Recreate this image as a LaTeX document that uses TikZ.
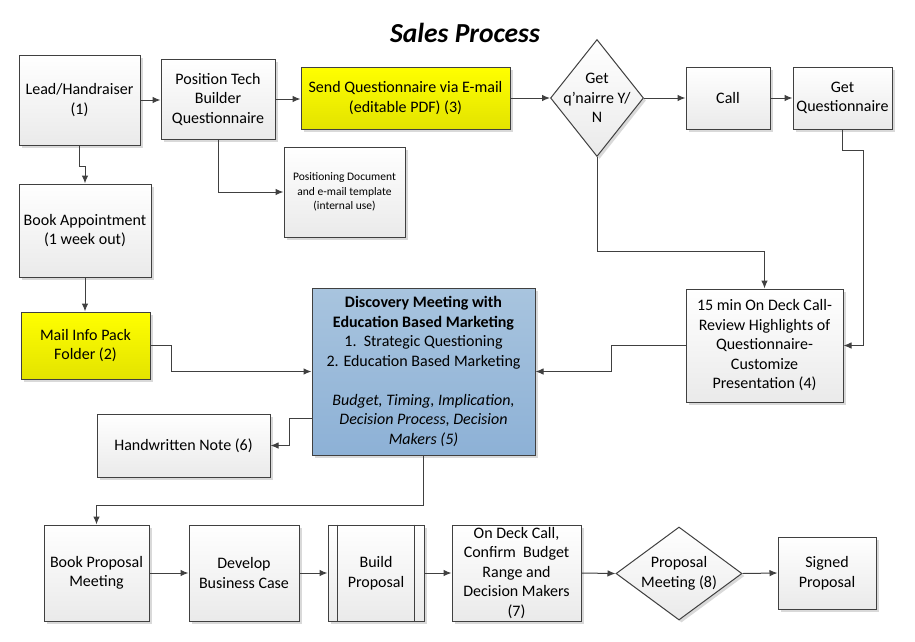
\documentclass[tikz,border=0pt]{standalone}
\usepackage{fontspec}
\setmainfont{Carlito}
\usetikzlibrary{arrows.meta,shapes.geometric,shadows}
\definecolor{edgec}{HTML}{404040}
\definecolor{boxbot}{HTML}{EAEAEA}
\definecolor{yeltop}{HTML}{FFFF00}
\definecolor{yelbot}{HTML}{E3E300}
\definecolor{bluetop}{HTML}{A8C4DE}
\definecolor{bluebot}{HTML}{8DB1D6}
\begin{document}
\begin{tikzpicture}[x=1pt,y=-1pt,
  base/.style={draw=edgec, line width=1pt, align=center, inner sep=0pt, text=black,
    font=\fontsize{16}{19.5}\selectfont,
    drop shadow={shadow xshift=2.5pt, shadow yshift=-2.5pt, fill=black, opacity=0.15}},
  box/.style={base, rectangle, top color=white, bottom color=boxbot},
  ybox/.style={base, rectangle, top color=yeltop, bottom color=yelbot},
  bbox/.style={base, rectangle, top color=bluetop, bottom color=bluebot},
  dia/.style={base, diamond, top color=white, bottom color=boxbot},
  dtext/.style={align=center, inner sep=0pt, text=black, font=\fontsize{16}{19.5}\selectfont},
  arr/.style={draw=edgec, line width=1pt, -{Latex[length=8pt,width=6.5pt]}},
  ln/.style={draw=edgec, line width=1pt}]
\useasboundingbox (0,0) rectangle (915,641);

\node[font=\fontsize{27.5}{30}\selectfont\bfseries\itshape] (title) at (465,33) {Sales Process};

% top row
\node[box, minimum width=121, minimum height=90] (lead) at (79.5,100) {Lead/Handraiser\\(1)};
\node[box, minimum width=114, minimum height=80] (ptb) at (218,99) {Position Tech\\Builder\\Questionnaire};
\node[ybox, minimum width=209, minimum height=62] (send) at (405.5,98) {Send Questionnaire via E-mail\\(editable PDF) (3)};
\node[box, minimum width=121, minimum height=90, font=\fontsize{11.5}{14.5}\selectfont] (posdoc) at (344.5,192) {Positioning Document\\and e-mail template\\(internal use)};
\node[dia, minimum width=93, minimum height=117] (d1) at (597,98) {};
\node[dtext] (d1t) at (d1.center) {Get\\q’nairre Y/\\N};
\node[box, minimum width=84, minimum height=62] (call) at (728,98) {Call};
\node[box, minimum width=99, minimum height=62] (getq) at (842.5,98) {Get\\Questionnaire};

% left column
\node[box, minimum width=132, minimum height=93] (book) at (85,230.5) {Book Appointment\\(1 week out)};
\node[ybox, minimum width=129, minimum height=67] (mail) at (85.5,345.5) {Mail Info Pack\\Folder (2)};

% middle
\node[bbox, minimum width=223, minimum height=167] (disc) at (423.5,371.5)
  {\textbf{Discovery Meeting with}\\\textbf{Education Based Marketing}\\1.\ \ Strategic Questioning\\2. Education Based Marketing\\[19.5pt]
   \textit{Budget, Timing, Implication,}\\\textit{Decision Process, Decision}\\\textit{Makers (5)}};
\node[box, minimum width=157, minimum height=113] (onq) at (764.5,345.5) {15 min On Deck Call-\\Review Highlights of\\Questionnaire-\\Customize\\Presentation (4)};
\node[box, minimum width=173, minimum height=63] (hand) at (183.5,445.5) {Handwritten Note (6)};

% bottom row
\node[box, minimum width=105, minimum height=96] (bpm) at (96.5,573) {Book Proposal\\Meeting};
\node[box, minimum width=110, minimum height=96] (dbc) at (244,573) {Develop\\Business Case};
\node[box, minimum width=96, minimum height=96] (bp) at (376,573) {Build\\Proposal};
\draw[ln] ([xshift=10pt]bp.north west) -- ([xshift=10pt]bp.south west);
\draw[ln] ([xshift=-10pt]bp.north east) -- ([xshift=-10pt]bp.south east);
\node[box, minimum width=129, minimum height=96] (odc) at (516.5,573) {On Deck Call,\\Confirm\ \ Budget\\Range and\\Decision Makers\\(7)};
\node[dia, minimum width=126, minimum height=93] (d2) at (679,573.5) {};
\node[dtext] (d2t) at (d2.center) {Proposal\\Meeting (8)};
\node[box, minimum width=98, minimum height=72] (signed) at (827,573) {Signed\\Proposal};

% connectors
\draw[arr] (lead.east) -- (lead.east -| ptb.west);
\draw[arr] (ptb.east) -- (ptb.east -| send.west);
\draw[arr] (send.east) -- (d1.west);
\draw[arr] (d1.east) -- (call.west);
\draw[arr] (call.east) -- (getq.west);
\draw[arr] (lead.south) -- ++(0,21) -| (book.north);
\draw[arr] (book.south) -- (book.south |- mail.north);
\draw[arr] (ptb.south) |- (posdoc.west);
\draw[arr] (d1.south) -- ++(0,94.5) -| (onq.north);
\coordinate (g1) at (863,150);
\draw[arr] (getq.south) |- (g1) |- (onq.east);
\draw[arr] (mail.east) -- ++(21,0) |- (disc.west);
\draw[arr] (onq.west) -- ++(-74,0) |- (disc.east);
\draw[arr] ([yshift=-46.5pt]disc.west) -- ++(-22,0) |- (hand.east);
\draw[arr] (disc.south) -- ++(0,50) -| (bpm.north);
\draw[arr] (bpm.east) -- (dbc.west);
\draw[arr] (dbc.east) -- (bp.west);
\draw[arr] (bp.east) -- (odc.west);
\draw[arr] (odc.east) -- (d2.west);
\draw[arr] (d2.east) -- (signed.west);
\end{tikzpicture}
\end{document}
